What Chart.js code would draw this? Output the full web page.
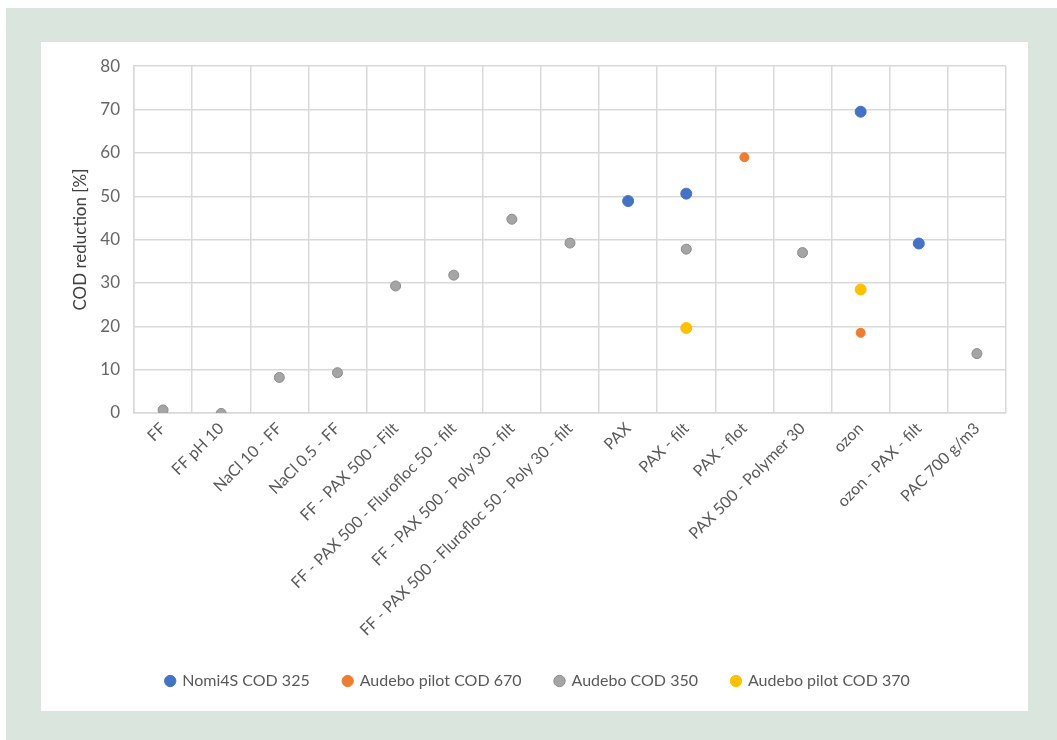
<!DOCTYPE html>
<html>
<head>
<meta charset="utf-8">
<script src="https://cdn.jsdelivr.net/npm/chart.js@4/dist/chart.umd.min.js"></script>
<style>
  html, body { margin: 0; padding: 0; background: #fff; }
  #frame { position: absolute; left: 6px; top: 8px; width: 1051px; height: 732px; background: #dae5de; }
  #panel { position: absolute; left: 41px; top: 42px; width: 987px; height: 669px; background: #fff; }
</style>
</head>
<body>
<div id="frame"></div>
<div id="panel"><canvas id="chart" width="987" height="669"></canvas></div>
<script>
// ── Data ───────────────────────────────────────────────────
const categories = [
  "FF", "FF pH 10", "NaCl 10 - FF", "NaCl 0.5 - FF", "FF - PAX 500 - Filt",
  "FF - PAX 500 - Flurofloc 50 - filt", "FF - PAX 500 - Poly 30 - filt",
  "FF - PAX 500 - Flurofloc 50 - Poly 30 - filt", "PAX", "PAX - filt",
  "PAX - flot", "PAX 500 - Polymer 30", "ozon", "ozon - PAX - filt", "PAC 700 g/m3"
];
const nomi4s325 =   [null, null, null, null, null, null, null, null, 48.9, 50.6, null, null, 69.5, 39.1, null];
const pilot670 =    [null, null, null, null, null, null, null, null, null, null, 59.0, null, 18.5, null, null];
const audebo350 =   [0.7, -0.1, 8.2, 9.3, 29.3, 31.8, 44.7, 39.2, null, 37.8, null, 37.0, null, null, 13.7];
const pilot370 =    [null, null, null, null, null, null, null, null, null, 19.6, null, null, 28.5, null, null];
const seriesNames = ["Nomi4S COD 325", "Audebo pilot COD 670", "Audebo COD 350", "Audebo pilot COD 370"];
const yTicks = [0, 10, 20, 30, 40, 50, 60, 70, 80];

const FONT = "Lato, 'Open Sans', sans-serif";
const gridColor = "#d9d9d9";

function series(label, data, fill, border, radius) {
  return {
    label, data,
    showLine: false,
    pointRadius: radius,
    pointHoverRadius: radius,
    pointBackgroundColor: fill,
    pointBorderColor: border,
    pointBorderWidth: 1,
    backgroundColor: fill,
    borderColor: border
  };
}

new Chart(document.getElementById("chart"), {
  type: "line",
  data: {
    labels: categories,
    datasets: [
      series(seriesNames[0], nomi4s325, "#4472c4", "#4472c4", 5.5),
      series(seriesNames[1], pilot670, "#ed7d31", "#ed7d31", 4.5),
      series(seriesNames[2], audebo350, "#a5a5a5", "#8c8c8c", 5),
      series(seriesNames[3], pilot370, "#ffc000", "#ffc000", 5.5)
    ]
  },
  options: {
    responsive: false,
    animation: false,
    devicePixelRatio: 1,
    layout: { padding: { top: 21.5, right: 22, left: 29, bottom: 12 } },
    plugins: {
      tooltip: { enabled: false },
      legend: {
        position: "bottom",
        labels: {
          usePointStyle: true,
          pointStyle: "circle",
          boxWidth: 8,
          boxHeight: 8,
          padding: 34,
          color: "#595959",
          font: { family: FONT, size: 16 }
        }
      }
    },
    scales: {
      x: {
        offset: true,
        grid: { offset: true, color: gridColor, lineWidth: 1.5, drawTicks: false },
        border: { color: gridColor, width: 1.5 },
        ticks: {
          color: "#595959",
          font: { family: FONT, size: 16 },
          maxRotation: 45, minRotation: 45,
          autoSkip: false,
          padding: 6
        },
        afterFit: s => { s.height = 226; }
      },
      y: {
        min: 0, max: 80,
        afterBuildTicks: s => { s.ticks = yTicks.map(v => ({ value: v })); },
        grid: { color: gridColor, lineWidth: 1.5, drawTicks: false },
        border: { color: gridColor, width: 1.5 },
        ticks: { color: "#666666", font: { family: FONT, size: 17 }, padding: 14 },
        title: {
          display: true,
          text: "COD reduction [%]",
          color: "#404040",
          font: { family: FONT, size: 17 },
          padding: { top: 0, bottom: 5 }
        },
        afterFit: s => { s.width = 64; }
      }
    }
  }
});
</script>
</body>
</html>
